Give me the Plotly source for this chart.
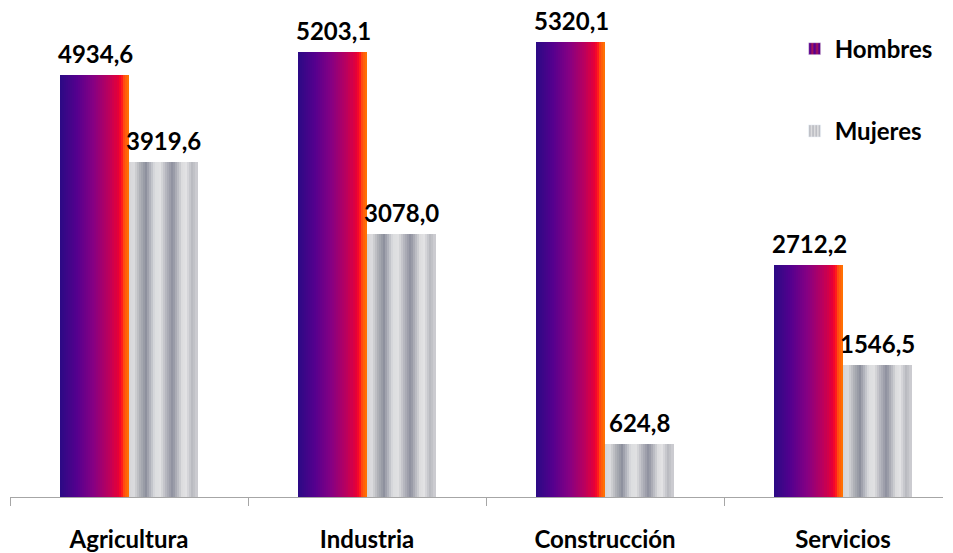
import plotly.graph_objects as go
from plotly.colors import sample_colorscale

categories = ["Agricultura", "Industria", "Construcción", "Servicios"]
hombres = [4934.6, 5203.1, 5320.1, 2712.2]
mujeres = [3919.6, 3078.0, 624.8, 1546.5]

hombres_scale = [[0.0, "#2a0a84"], [0.25, "#55008e"], [0.5, "#880082"], [0.72, "#bc005c"],
                 [0.85, "#e80036"], [0.89, "#ff1020"], [0.93, "#ff5010"], [1.0, "#ff7800"]]
mujeres_scale = [[0.0, "#d4d5d8"], [0.07, "#dcdcde"], [0.16, "#b0b2b8"], [0.25, "#8e919e"],
                 [0.38, "#dcdde0"], [0.46, "#e0e0e2"], [0.54, "#b8b9c0"], [0.64, "#8e909e"],
                 [0.78, "#dcdcde"], [0.84, "#e2e2e4"], [0.93, "#b8b9c0"], [1.0, "#d0d0d4"]]

BAR_W = 0.288
N = 34
FONT = "Lato"
FS = 24
HALF_PX = 34

fig = go.Figure()

def add_gradient(values, scale, start, shift):
    step = BAR_W / N
    cols = sample_colorscale(scale, [(k + 0.5) / N for k in range(N)])
    for k in range(N):
        fig.add_trace(go.Bar(
            x=categories, y=values, width=step * 1.4,
            offset=start + k * step - step * 0.2 if k else start,
            marker=dict(color=cols[k], line=dict(width=0)),
            showlegend=False, hoverinfo="skip"))
    for c, v in zip(categories, values):
        fig.add_annotation(x=c, y=v, xref="x", yref="y", xshift=shift, yshift=5,
                           yanchor="bottom", showarrow=False,
                           text=f"{v:.1f}".replace(".", ","),
                           font=dict(family=FONT, size=FS, color="#000000", weight="bold"))

add_gradient(hombres, hombres_scale, -BAR_W, -HALF_PX)
add_gradient(mujeres, mujeres_scale, 0.0, HALF_PX)

fig.add_trace(go.Bar(x=[None], y=[None], name="Hombres", legendgroup="h",
                     marker=dict(color="#a0006a", pattern=dict(shape="|", fgcolor="#ff3010", bgcolor="#5a0090", size=6, solidity=0.4))))
fig.add_trace(go.Bar(x=[None], y=[None], name="Mujeres", legendgroup="m",
                     marker=dict(color="#c0c1c6", pattern=dict(shape="|", fgcolor="#8f919e", bgcolor="#dcdcde", size=4, solidity=0.4))))

fig.update_layout(
    width=945, height=545,
    margin=dict(l=2, r=10, t=0, b=56),
    paper_bgcolor="white", plot_bgcolor="white",
    barmode="overlay", bargap=0,
    font=dict(family=FONT, color="#000000"),
    legend=dict(x=0.841, y=0.962, xanchor="left", yanchor="top",
                font=dict(family=FONT, size=FS, color="#000000", weight="bold"),
                tracegroupgap=48, bgcolor="rgba(0,0,0,0)"),
    xaxis=dict(type="category", range=[-0.5, 3.42], showgrid=False,
               showline=True, linecolor="#a6a6a6", linewidth=1,
               ticks="outside", tickson="boundaries", ticklen=8, tickcolor="#a6a6a6",
               ticklabelstandoff=21,
               tickfont=dict(family=FONT, size=FS, color="#000000", weight="bold")),
    yaxis=dict(range=[0, 5717], visible=False, showgrid=False, zeroline=False),
)

fig.write_html("out.html")
